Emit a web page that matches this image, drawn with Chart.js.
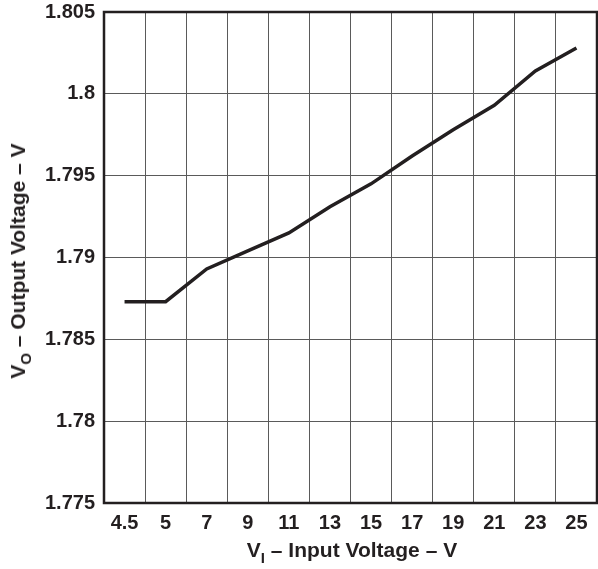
<!DOCTYPE html>
<html>
<head>
<meta charset="utf-8">
<script src="https://cdn.jsdelivr.net/npm/chart.js@4"></script>
<style>
  body { margin: 0; background: #fff; }
  #wrap { position: relative; width: 598px; height: 569px; }
  .axisTitle {
    position: absolute;
    font-family: "Liberation Sans", Arial, sans-serif;
    font-weight: bold;
    font-size: 21px;
    line-height: 24px;
    color: #231f20;
    white-space: nowrap;
  }
  .axisTitle sub { font-size: 15px; vertical-align: -6px; line-height: 0; }
  #xTitle { left: 104px; width: 496px; top: 538px; text-align: center; }
  #yTitle { left: 18px; top: 261px; transform: translate(-50%, -50%) rotate(-90deg); }
</style>
</head>
<body>
<div id="wrap">
  <canvas id="elementLineChart" width="598" height="569"></canvas>
  <div class="axisTitle" id="xTitle">V<sub>I</sub> – Input Voltage – V</div>
  <div class="axisTitle" id="yTitle">V<sub>O</sub> – Output Voltage – V</div>
</div>
<script>
var inputVoltage = ['4.5', '5', '7', '9', '11', '13', '15', '17', '19', '21', '23', '25'];
var outputVoltage = [1.7873, 1.7873, 1.7893, 1.7904, 1.7915, 1.7931, 1.7945, 1.7962, 1.7978, 1.7993, 1.8014, 1.8028];
var yMin = 1.775;
var yMax = 1.805;
var yStep = 0.005;

var lineChart = null;
var inkColor = '#231f20';
var gridColor = '#5a5a5a';
var tickFont = { family: '"Liberation Sans", Arial, sans-serif', size: 20, weight: 'bold' };

// heavy frame round the plot area
var frameBox = {
    id: 'frameBox',
    afterDraw: function(chart){
        var a = chart.chartArea;
        var ctx = chart.ctx;
        ctx.save();
        ctx.strokeStyle = inkColor;
        ctx.lineWidth = 2.5;
        ctx.strokeRect(a.left, a.top, a.right - a.left, a.bottom - a.top);
        ctx.restore();
    }
};

function createLineChart(){
    if (lineChart){
        lineChart.destroy();
    }
    lineChart = new Chart(document.getElementById('elementLineChart'), {
        type: 'line',
        data: {
            labels: inputVoltage,
            datasets: [{
                data: outputVoltage,
                borderColor: inkColor,
                borderWidth: 3.5,
                pointRadius: 0,
                tension: 0,
                fill: false
            }]
        },
        options: {
            responsive: false,
            animation: false,
            layout: { padding: { top: 12, right: 1, left: 0, bottom: 0 } },
            plugins: { legend: { display: false }, tooltip: { enabled: false } },
            scales: {
                x: {
                    type: 'category',
                    offset: true,
                    grid: { offset: true, color: gridColor, lineWidth: 1, drawTicks: false },
                    border: { display: false },
                    ticks: { color: inkColor, font: tickFont, padding: 8, maxRotation: 0, autoSkip: false },
                    afterFit: function(scale){
                        scale.height = 66;
                        scale.paddingLeft = 0;
                        scale.paddingRight = 0;
                    }
                },
                y: {
                    min: yMin,
                    max: yMax,
                    grid: { color: gridColor, lineWidth: 1, drawTicks: false },
                    border: { display: false },
                    ticks: {
                        stepSize: yStep,
                        color: inkColor,
                        font: tickFont,
                        padding: 9,
                        callback: function(v){ return String(parseFloat(v.toFixed(3))); }
                    },
                    afterFit: function(scale){
                        scale.width = 104;
                        scale.paddingTop = 0;
                        scale.paddingBottom = 0;
                    }
                }
            }
        },
        plugins: [frameBox]
    });
}

createLineChart();
</script>
</body>
</html>
